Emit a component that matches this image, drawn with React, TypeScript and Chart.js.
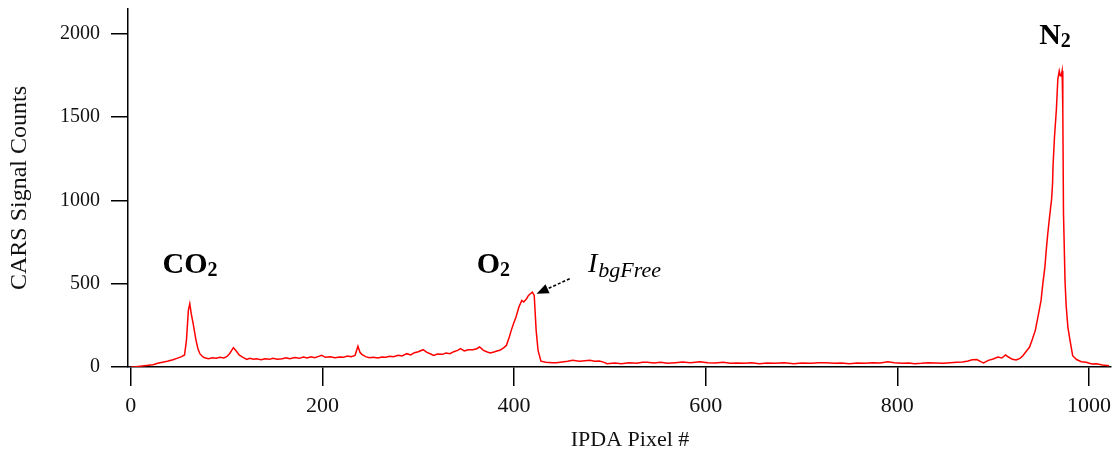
import React, { useEffect, useRef } from 'react';
import { Chart, registerables } from 'chart.js';

Chart.register(...registerables);

// IPDA pixel index (x) and CARS signal counts (y)
const pixelIndex: number[] = [
  0, 5, 12, 18, 23, 28, 33, 38, 44, 48, 53, 56, 58, 60, 61.5, 63, 65, 68, 70, 72,
  75, 77, 81, 85, 89, 93, 97, 100, 103, 107, 110, 113, 117, 121, 124, 128, 131, 136, 140, 145,
  148, 153, 158, 162, 166, 171, 176, 180, 184, 188, 192, 196, 199, 203, 208, 213, 218, 222, 226, 230,
  234, 237, 239, 241, 245, 249, 253, 258, 262, 266, 270, 274, 279, 283, 288, 292, 296, 300, 305, 309,
  313, 316, 320, 325, 329, 333, 337, 341, 344, 348, 352, 357, 361, 364, 368, 372, 375, 379, 382, 385,
  389, 392, 395, 397, 400, 402, 405, 408, 410, 413, 415, 417, 419, 421, 423, 425, 428, 433, 440, 444,
  450, 456, 461, 468, 474, 479, 484, 489, 494, 497, 505, 512, 520, 528, 534, 539, 546, 553, 560, 568,
  576, 584, 594, 602, 610, 618, 626, 633, 640, 648, 656, 664, 672, 682, 692, 700, 710, 718, 726, 734,
  742, 750, 758, 766, 774, 782, 790, 797, 805, 812, 818, 825, 832, 840, 848, 855, 862, 868, 874, 878,
  883, 887, 890, 895, 900, 905, 909, 913, 916, 920, 924, 928, 931, 934, 938, 941, 944, 947, 950, 952,
  954, 955.5, 957, 959, 961, 962, 962.5, 964, 966, 967.5, 969, 970, 971, 972, 972.7, 973.4, 975, 976.2, 978, 980,
  983, 987, 992, 997, 1003, 1008, 1014, 1021,
];

const signalCounts: number[] = [
  0, 2, 6, 10, 14, 22, 28, 34, 44, 52, 62, 72, 160, 340, 380, 320, 260, 160, 110, 80,
  62, 55, 50, 56, 52, 58, 54, 62, 80, 116, 96, 72, 58, 45, 52, 46, 50, 44, 50, 46,
  52, 47, 50, 56, 50, 57, 52, 60, 54, 62, 56, 64, 70, 58, 62, 56, 60, 58, 66, 62,
  70, 125, 90, 76, 62, 56, 58, 54, 60, 58, 64, 62, 70, 66, 80, 72, 86, 92, 104, 88,
  78, 70, 78, 76, 84, 80, 92, 100, 110, 96, 104, 104, 110, 120, 100, 90, 84, 90, 96, 100,
  115, 130, 180, 220, 270, 300, 360, 400, 390, 410, 430, 440, 450, 430, 220, 100, 35, 28, 26, 26,
  30, 34, 40, 34, 38, 40, 34, 36, 28, 20, 24, 20, 26, 22, 28, 28, 24, 28, 22, 26,
  30, 26, 32, 26, 24, 28, 22, 24, 22, 26, 20, 24, 22, 25, 20, 24, 22, 26, 25, 22,
  24, 20, 24, 22, 26, 24, 32, 26, 22, 24, 20, 22, 26, 24, 22, 26, 28, 30, 36, 44,
  45, 32, 25, 40, 48, 60, 54, 72, 60, 46, 42, 52, 68, 90, 120, 168, 220, 308, 400, 508,
  600, 708, 800, 908, 1008, 1100, 1208, 1380, 1548, 1728, 1778, 1750, 1748, 1778, 1548, 928, 520, 368, 240, 168,
  68, 45, 32, 28, 18, 20, 12, 8,
];

const xTickValues: number[] = [0, 200, 400, 600, 800, 1000];
const yTickValues: number[] = [0, 500, 1000, 1500, 2000];
const xRange: [number, number] = [-3, 1023];
const yRange: [number, number] = [0, 2150];

const xTitle = 'IPDA Pixel #';
const yTitle = 'CARS Signal Counts';

// peak labels: [main text, subscript, data x, data y]
const peakLabels: [string, string, number, number][] = [
  ['CO', '2', 33, 562],
  ['O', '2', 361, 562],
  ['N', '2', 948, 1940],
];
const bgFreeLabel: [string, string, number, number] = ['I', 'bgFree', 477, 568];
const arrowFrom: [number, number] = [458, 530];
const arrowTo: [number, number] = [423.5, 440];

const SERIF = '"Liberation Serif", "Times New Roman", serif';

const annotationPlugin = {
  id: 'peakAnnotations',
  afterDraw(chart: any) {
    const { ctx, scales } = chart;
    const xs = scales.x;
    const ys = scales.y;
    ctx.save();
    ctx.fillStyle = '#000';
    ctx.textBaseline = 'alphabetic';
    ctx.textAlign = 'left';

    for (const [main, sub, dx, dy] of peakLabels) {
      const px = xs.getPixelForValue(dx);
      const py = ys.getPixelForValue(dy);
      ctx.font = `bold 30px ${SERIF}`;
      ctx.fillText(main, px, py);
      const w = ctx.measureText(main).width;
      ctx.font = `bold 20px ${SERIF}`;
      ctx.fillText(sub, px + w, py + 3);
    }

    {
      const [main, sub, dx, dy] = bgFreeLabel;
      const px = xs.getPixelForValue(dx);
      const py = ys.getPixelForValue(dy);
      ctx.font = `italic 28px ${SERIF}`;
      ctx.fillText(main, px, py);
      const w = ctx.measureText(main).width;
      ctx.font = `italic 22px ${SERIF}`;
      ctx.fillText(sub, px + w + 1, py + 5);
    }

    // dashed arrow
    const ax0 = xs.getPixelForValue(arrowFrom[0]);
    const ay0 = ys.getPixelForValue(arrowFrom[1]);
    const ax1 = xs.getPixelForValue(arrowTo[0]);
    const ay1 = ys.getPixelForValue(arrowTo[1]);
    const ang = Math.atan2(ay1 - ay0, ax1 - ax0);
    const headLen = 12;
    const bx = ax1 - headLen * Math.cos(ang);
    const by = ay1 - headLen * Math.sin(ang);
    ctx.strokeStyle = '#000';
    ctx.lineWidth = 1.6;
    ctx.setLineDash([3, 2]);
    ctx.beginPath();
    ctx.moveTo(ax0, ay0);
    ctx.lineTo(bx, by);
    ctx.stroke();
    ctx.setLineDash([]);
    ctx.beginPath();
    ctx.moveTo(ax1, ay1);
    ctx.lineTo(bx + 5 * Math.sin(ang), by - 5 * Math.cos(ang));
    ctx.lineTo(bx - 5 * Math.sin(ang), by + 5 * Math.cos(ang));
    ctx.closePath();
    ctx.fill();

    // x axis title
    ctx.font = `22px ${SERIF}`;
    ctx.textAlign = 'center';
    ctx.textBaseline = 'middle';
    ctx.fillStyle = '#111';
    ctx.fillText(xTitle, xs.getPixelForValue(521), chart.height - 17);
    ctx.restore();
  },
};

export default function App() {
  const canvasRef = useRef<HTMLCanvasElement | null>(null);

  useEffect(() => {
    if (!canvasRef.current) return;
    const points = pixelIndex.map((x, i) => ({ x, y: signalCounts[i] }));
    const chart = new Chart(canvasRef.current, {
      type: 'line',
      data: {
        datasets: [
          {
            data: points,
            borderColor: '#ff0000',
            borderWidth: 1.5,
            pointRadius: 0,
            tension: 0,
            fill: false,
          },
        ],
      },
      options: {
        animation: false,
        responsive: false,
        maintainAspectRatio: false,
        layout: { padding: { left: 0, right: 4, top: 9, bottom: 0 } },
        plugins: {
          legend: { display: false },
          tooltip: { enabled: false },
          title: { display: false },
        },
        scales: {
          x: {
            type: 'linear',
            min: xRange[0],
            max: xRange[1],
            afterBuildTicks: (s: any) => {
              s.ticks = xTickValues.map((v) => ({ value: v }));
            },
            afterFit: (s: any) => {
              s.height = 90;
              s.paddingLeft = 0;
              s.paddingRight = 0;
            },
            ticks: {
              color: '#111',
              padding: 7,
              maxRotation: 0,
              autoSkip: false,
              callback: (v: any) => String(v),
              font: { family: SERIF, size: 22 },
            },
            grid: {
              drawOnChartArea: false,
              drawTicks: true,
              tickLength: 19,
              color: '#000',
              lineWidth: 1.5,
            },
            border: { display: true, color: '#000', width: 1.5 },
          },
          y: {
            type: 'linear',
            min: yRange[0],
            max: yRange[1],
            afterBuildTicks: (s: any) => {
              s.ticks = yTickValues.map((v) => ({ value: v }));
            },
            afterFit: (s: any) => {
              s.width = 128;
              s.paddingTop = 0;
              s.paddingBottom = 0;
            },
            ticks: {
              color: '#111',
              padding: 11,
              autoSkip: false,
              callback: (v: any) => String(v),
              font: { family: SERIF, size: 20 },
            },
            grid: {
              drawOnChartArea: false,
              drawTicks: true,
              tickLength: 17,
              color: '#000',
              lineWidth: 1.5,
            },
            border: { display: true, color: '#000', width: 1.5 },
            title: {
              display: true,
              text: yTitle,
              color: '#111',
              font: { family: SERIF, size: 24 },
              padding: { top: 5, bottom: 0 },
            },
          },
        },
      },
      plugins: [annotationPlugin],
    });
    return () => chart.destroy();
  }, []);

  return (
    <div style={{ position: 'absolute', left: 0, top: 0, width: 1115, height: 457, background: '#fff' }}>
      <canvas ref={canvasRef} width={1115} height={457} />
    </div>
  );
}
